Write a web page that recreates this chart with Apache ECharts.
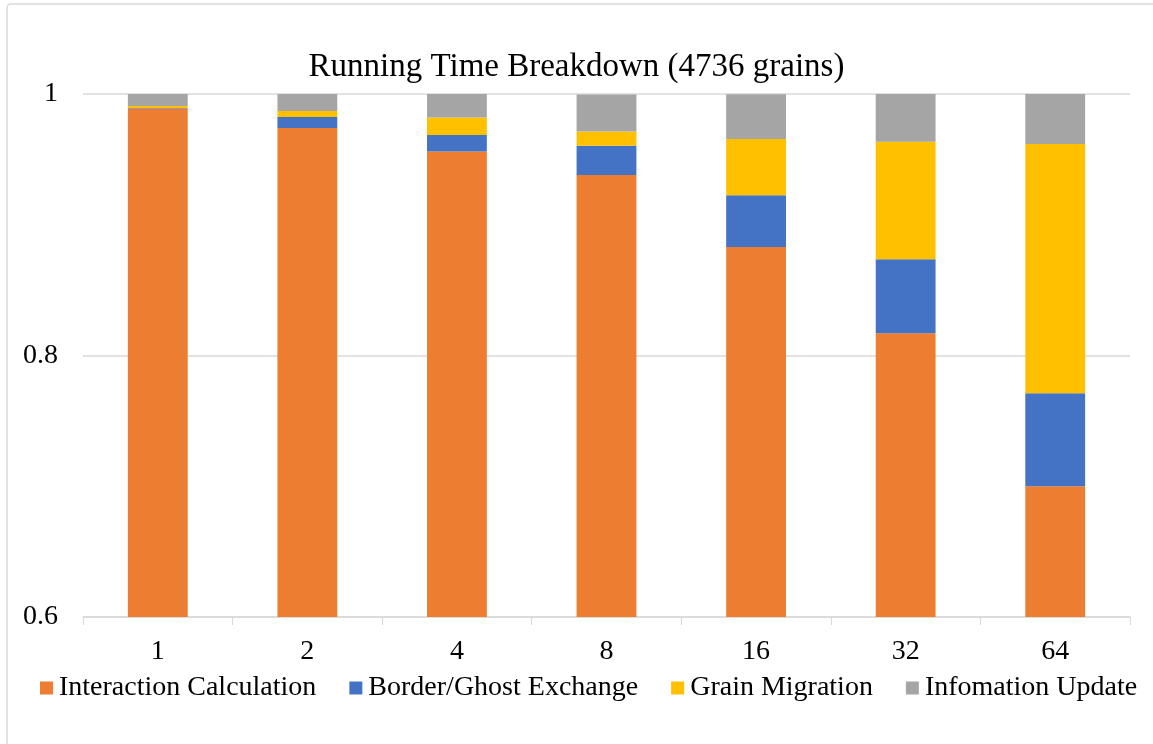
<!DOCTYPE html>
<html>
<head>
<meta charset="utf-8">
<script src="https://cdn.jsdelivr.net/npm/echarts@6/dist/echarts.min.js"></script>
<style>
  html, body { margin: 0; padding: 0; background: #ffffff; }
  #chart { width: 1153px; height: 744px; }
</style>
</head>
<body>
<div id="chart"></div>
<script>
// Processor counts on the x axis
const categories = ['1', '2', '4', '8', '16', '32', '64'];

// Fraction of total running time spent in each phase
const interactionCalc = [0.989, 0.974, 0.956, 0.938, 0.883, 0.817, 0.700];
const borderGhost     = [0.0003, 0.0084, 0.0127, 0.0225, 0.0396, 0.0566, 0.0711];
const grainMigration  = [0.0015, 0.0046, 0.0133, 0.0109, 0.0430, 0.0898, 0.1907];
const infoUpdate      = [0.0092, 0.0130, 0.0181, 0.0283, 0.0342, 0.0369, 0.0382];

const yTicks = [0.6, 0.8, 1];

const FONT = '"Liberation Serif", "Times New Roman", serif';

const chart = echarts.init(document.getElementById('chart'), null, { renderer: 'canvas' });

function barSeries(name, data, color) {
  return {
    name: name,
    type: 'bar',
    stack: 'total',
    data: data,
    barWidth: '40%',
    itemStyle: { color: color },
    emphasis: { disabled: true }
  };
}

chart.setOption({
  animation: false,
  backgroundColor: '#ffffff',
  graphic: [{
    type: 'rect',
    shape: { x: 7, y: 4, width: 1180, height: 780, r: 4 },
    style: { fill: 'none', stroke: '#d9d9d9', lineWidth: 1.5 },
    silent: true
  }],
  title: {
    text: 'Running Time Breakdown (4736 grains)',
    left: 'center',
    top: 46,
    textStyle: { fontFamily: FONT, fontSize: 33, fontWeight: 'normal', color: '#000000' }
  },
  legend: {
    bottom: 42,
    left: 40,
    padding: 0,
    itemWidth: 13,
    itemHeight: 13,
    itemGap: 33,
    icon: 'rect',
    textStyle: { fontFamily: FONT, fontSize: 28, color: '#000000', padding: [0, 0, 0, 1] },
    data: ['Interaction Calculation', 'Border/Ghost Exchange', 'Grain Migration', 'Infomation Update']
  },
  grid: { left: 83, right: 23, top: 94, bottom: 127, containLabel: false },
  xAxis: {
    type: 'category',
    data: categories,
    axisLine: { show: true, lineStyle: { color: '#d9d9d9', width: 1.5 } },
    axisTick: { show: true, alignWithLabel: false, length: 8, lineStyle: { color: '#d9d9d9' } },
    axisLabel: { fontFamily: FONT, fontSize: 28, color: '#000000', margin: 21 }
  },
  yAxis: {
    type: 'value',
    min: yTicks[0],
    max: yTicks[yTicks.length - 1],
    interval: 0.2,
    axisLine: { show: false },
    axisTick: { show: false },
    splitLine: { lineStyle: { color: '#d9d9d9', width: 1.5 } },
    axisLabel: {
      fontFamily: FONT, fontSize: 28, color: '#000000', margin: 25,
      formatter: function (v) { return String(Math.round(v * 10) / 10); }
    }
  },
  series: [
    barSeries('Interaction Calculation', interactionCalc, '#ED7D31'),
    barSeries('Border/Ghost Exchange', borderGhost, '#4472C4'),
    barSeries('Grain Migration', grainMigration, '#FFC000'),
    barSeries('Infomation Update', infoUpdate, '#A5A5A5')
  ]
});
</script>
</body>
</html>
